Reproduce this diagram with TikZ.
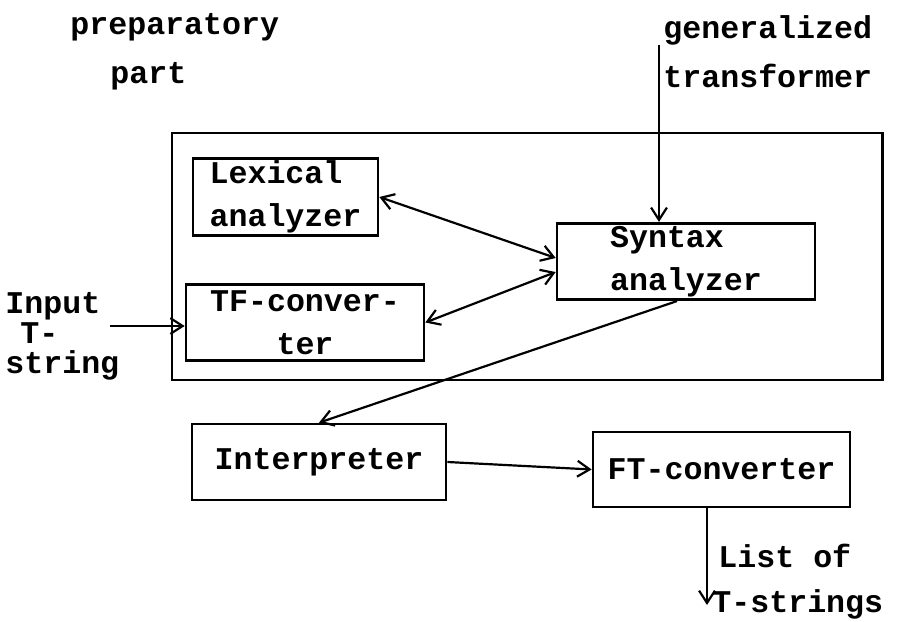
\documentclass[tikz,border=0pt]{standalone}
\usepackage{fontspec}
\setmonofont{Liberation Mono}
\usetikzlibrary{arrows.meta}

\tikzset{
  every node/.style={font=\ttfamily\bfseries\fontsize{18}{24.5}\selectfont},
  blk/.style={draw,line width=1.5pt,align=center,inner sep=0pt,minimum height=1.53cm},
  lbl/.style={align=left,inner sep=0pt},
  flow/.style={line width=1.25pt,-{Straight Barb[length=7pt,width=9pt]}},
  dflow/.style={line width=1.25pt,{Straight Barb[length=7pt,width=9pt]}-{Straight Barb[length=7pt,width=9pt]}}
}

\begin{document}
\begin{tikzpicture}
\useasboundingbox (0,0) rectangle (17.98,12.44);
\draw[line width=1.7pt] (3.44,4.84) rectangle (17.64,9.78);
\node[blk,align=left,minimum width=3.7cm] (lexical) at (5.71,8.50) {Lexical\\analyzer};
\node[blk,minimum width=4.76cm] (tfconv) at (6.10,5.99) {TF-conver-\\ter};
\node[blk,align=left,minimum width=5.16cm] (syntax) at (13.72,7.21) {Syntax\\analyzer};
\node[blk,minimum width=5.08cm,minimum height=1.52cm] (interp) at (6.38,3.20) {Interpreter};
\node[blk,minimum width=5.14cm,minimum height=1.5cm] (ftconv) at (14.43,3.05) {FT-converter};
% labels outside the blocks
\node[lbl,anchor=west,font=\ttfamily\bfseries\fontsize{18}{28}\selectfont] (prep) at (1.4,11.40)
	{preparatory\\\hspace*{0.8cm}part};
\node[lbl,anchor=west,font=\ttfamily\bfseries\fontsize{18}{28}\selectfont] (gentr) at (13.26,11.40)
	{generalized\\transformer};
\node[lbl,anchor=west,font=\ttfamily\bfseries\fontsize{18}{17}\selectfont] (input) at (0.1,5.72)
	{Input\\\hspace*{0.3cm}T-\\string};
\node[lbl,anchor=west,font=\ttfamily\bfseries\fontsize{18}{25.5}\selectfont] (listof) at (14.24,0.8)
	{\hspace*{0.12cm}List of\\T-strings};
\coordinate (gtstart) at (13.18,11.54);
\coordinate (instart) at (2.2,5.92);
\coordinate (listend) at (14.14,0.34);
% connectors
\draw[flow] (gtstart) -- (gtstart |- syntax.north);
\draw[flow] (instart) -- (instart -| tfconv.west);
\draw[dflow] (lexical.east) -- ([yshift=2pt]syntax.west);
\draw[dflow] (tfconv.east) -- ([yshift=-6pt]syntax.west);
\draw[flow] ([xshift=-0.18cm]syntax.south) -- (interp.north);
\draw[flow] (interp.east) -- (ftconv.west);
\draw[flow] (listend |- ftconv.south) -- (listend);
\end{tikzpicture}
\end{document}
